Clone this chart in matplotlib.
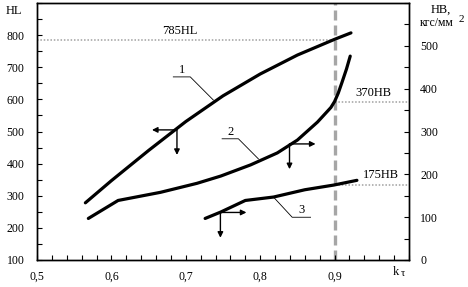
import numpy as np
import matplotlib.pyplot as plt
from matplotlib.ticker import MultipleLocator, FuncFormatter

plt.rcParams['font.family'] = ['Liberation Serif', 'DejaVu Serif']

# curve 1: HL (left axis)
c1_x = [0.565, 0.600, 0.650, 0.700, 0.750, 0.800, 0.850, 0.900, 0.922]
c1_hl = [278, 347, 441, 531, 611, 679, 738, 787, 807]
# curve 2: HB (right axis)
c2_x = [0.569, 0.609, 0.666, 0.715, 0.747, 0.787, 0.823, 0.850, 0.877, 0.895,
        0.900, 0.905, 0.910, 0.916, 0.921]
c2_hb = [97, 139, 158, 179, 196, 222, 250, 280, 322, 356,
         370, 390, 415, 446, 476]
# curve 3: HB (right axis)
c3_x = [0.726, 0.747, 0.780, 0.818, 0.860, 0.899, 0.930]
c3_hb = [97, 112, 139, 147, 164, 175, 186]

k_mark = 0.9
hl_mark = 785
hb_marks = [370, 175]
hb_texts = ['370HB', '175HB']

fig = plt.figure(figsize=(4.68, 2.87), dpi=100)
ax = fig.add_axes([0.0791, 0.0941, 0.7948, 0.8954])
ax2 = ax.twinx()

ax.set_xlim(0.5, 1.0)
ax.set_ylim(100, 900)
ax2.set_ylim(0, 600)

ax.xaxis.set_major_locator(MultipleLocator(0.1))
ax.xaxis.set_minor_locator(MultipleLocator(0.02))
ax.yaxis.set_major_locator(MultipleLocator(100))
ax.yaxis.set_minor_locator(MultipleLocator(50))
ax2.yaxis.set_major_locator(MultipleLocator(100))
ax2.yaxis.set_minor_locator(MultipleLocator(50))
ax.xaxis.set_major_formatter(
    FuncFormatter(lambda v, p: '' if v > 0.95 else f'{v:.1f}'.replace('.', ',')))

# no labels past the last shown value
ax.yaxis.set_major_formatter(FuncFormatter(lambda v, p: '' if v > 800 else f'{v:.0f}'))
ax2.yaxis.set_major_formatter(FuncFormatter(lambda v, p: '' if v > 500 else f'{v:.0f}'))

ax.tick_params(which='both', direction='in', length=3.5, width=0.8, labelsize=8.5,
               top=False, right=False)
ax.tick_params(axis='y', pad=9)
ax.tick_params(axis='x', pad=8)
ax2.tick_params(which='both', direction='in', length=3.5, width=0.8, labelsize=8.5,
                left=False, pad=8)
for a in (ax, ax2):
    for s in a.spines.values():
        s.set_linewidth(1.0)

# reference lines
ax.plot([0.5, k_mark], [hl_mark, hl_mark], color='#a0a0a0', lw=1.1, ls=(0, (1, 1.2)))
for hb in hb_marks:
    ax2.plot([k_mark, 1.0], [hb, hb], color='#a0a0a0', lw=1.1, ls=(0, (1, 1.2)))
ax.axvline(k_mark, color='#a6a6a6', lw=2.4, ls=(0, (3, 1.5)), zorder=1)

# curves
ax.plot(c1_x, c1_hl, color='black', lw=2.3, solid_capstyle='round', zorder=3)
ax2.plot(c2_x, c2_hb, color='black', lw=2.3, solid_capstyle='round', zorder=3)
ax2.plot(c3_x, c3_hb, color='black', lw=2.3, solid_capstyle='round', zorder=3)

ax.text(0.6926, 812, '785HL', ha='center', va='center', fontsize=9)
ax2.text(0.9526, 391, hb_texts[0], ha='center', va='center', fontsize=9)
ax2.text(0.962, 198, hb_texts[1], ha='center', va='center', fontsize=9)

arr = dict(arrowstyle='-|>', lw=1.0, color='black', mutation_scale=8, shrinkA=0, shrinkB=0)

# curve labels with leader lines
ax.plot([0.6832, 0.706, 0.737], [670, 670, 598], color='black', lw=0.6)
ax.text(0.6949, 672, '1', ha='center', va='bottom', fontsize=9)
ax2.plot([0.7488, 0.7707, 0.7976], [283, 283, 236], color='black', lw=0.6)
ax2.text(0.7598, 285, '2', ha='center', va='bottom', fontsize=9)
ax2.plot([0.8677, 0.843, 0.8178], [99.8, 99.8, 147], color='black', lw=0.6)
ax2.text(0.8553, 102, '3', ha='center', va='bottom', fontsize=9)

# direction arrows
ax.annotate('', xy=(0.6545, 505), xytext=(0.6881, 505), arrowprops=arr)
ax.annotate('', xy=(0.6881, 427), xytext=(0.6881, 505), arrowprops=arr)
ax2.annotate('', xy=(0.8744, 271), xytext=(0.8394, 271), arrowprops=arr)
ax2.annotate('', xy=(0.8394, 212), xytext=(0.8394, 271), arrowprops=arr)
ax2.annotate('', xy=(0.7815, 111), xytext=(0.7465, 111), arrowprops=arr)
ax2.annotate('', xy=(0.7465, 52), xytext=(0.7465, 111), arrowprops=arr)

# axis titles
fig.text(14 / 468, 1 - 11 / 287, 'HL', ha='center', va='center', fontsize=9)
fig.text(441 / 468, 1 - 10 / 287, 'HB,', ha='center', va='center', fontsize=9)
fig.text(437 / 468, 1 - 23 / 287, 'кгс/мм', ha='center', va='center', fontsize=8.5)
fig.text(461 / 468, 1 - 19 / 287, '2', ha='center', va='center', fontsize=8)
fig.text(396 / 468, 1 - 272 / 287, 'k', ha='center', va='center', fontsize=9)
fig.text(403 / 468, 1 - 273 / 287, 'τ', ha='center', va='center', fontsize=7.5)

fig.savefig('out.png', dpi=100)
